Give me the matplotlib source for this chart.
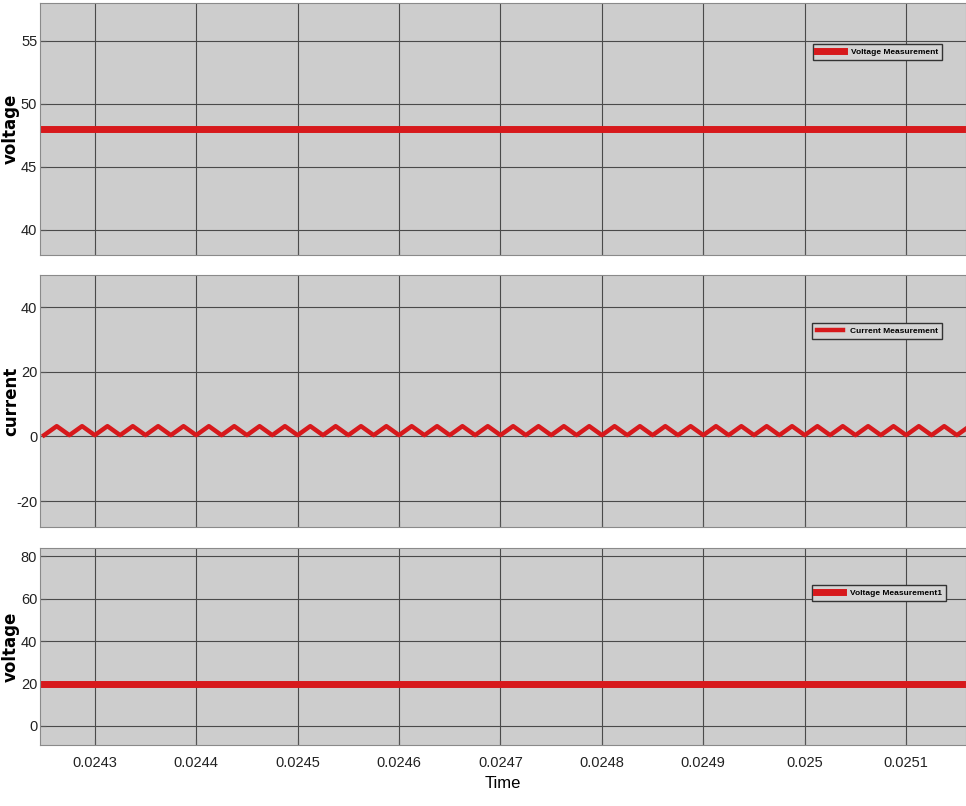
"""
三个测量通道的波形（电压、电流、电压1）
"""
import numpy as np
import matplotlib
matplotlib.use('Agg')
import matplotlib.pyplot as plt

plt.rcParams['font.family'] = ['Liberation Sans', 'DejaVu Sans']
plt.rcParams['axes.unicode_minus'] = False  # 用短横线表示负号

# 时间轴
x_ticks = [0.0243, 0.0244, 0.0245, 0.0246, 0.0247, 0.0248, 0.0249, 0.0250, 0.0251]
x_tick_labels = ['0.0243', '0.0244', '0.0245', '0.0246', '0.0247', '0.0248', '0.0249', '0.025', '0.0251']
x_range = [0.024246, 0.025159]

# 电压测量（恒定）
voltage_t = [0.02424, 0.02517]
voltage_v = [48.0, 48.0]

# 电流测量（三角波顶点，单位微秒）
current_t_us = [24250, 24262.5, 24275, 24287.5, 24300, 24312.5, 24325, 24337.5, 24350, 24362.5,
                24375, 24387.5, 24400, 24412.5, 24425, 24437.5, 24450, 24462.5, 24475, 24487.5,
                24500, 24512.5, 24525, 24537.5, 24550, 24562.5, 24575, 24587.5, 24600, 24612.5,
                24625, 24637.5, 24650, 24662.5, 24675, 24687.5, 24700, 24712.5, 24725, 24737.5,
                24750, 24762.5, 24775, 24787.5, 24800, 24812.5, 24825, 24837.5, 24850, 24862.5,
                24875, 24887.5, 24900, 24912.5, 24925, 24937.5, 24950, 24962.5, 24975, 24987.5,
                25000, 25012.5, 25025, 25037.5, 25050, 25062.5, 25075, 25087.5, 25100, 25112.5,
                25125, 25137.5, 25150, 25162.5, 25175]
current_a = [0.4, 3.2, 0.4, 3.2, 0.4, 3.2, 0.4, 3.2, 0.4, 3.2,
             0.4, 3.2, 0.4, 3.2, 0.4, 3.2, 0.4, 3.2, 0.4, 3.2,
             0.4, 3.2, 0.4, 3.2, 0.4, 3.2, 0.4, 3.2, 0.4, 3.2,
             0.4, 3.2, 0.4, 3.2, 0.4, 3.2, 0.4, 3.2, 0.4, 3.2,
             0.4, 3.2, 0.4, 3.2, 0.4, 3.2, 0.4, 3.2, 0.4, 3.2,
             0.4, 3.2, 0.4, 3.2, 0.4, 3.2, 0.4, 3.2, 0.4, 3.2,
             0.4, 3.2, 0.4, 3.2, 0.4, 3.2, 0.4, 3.2, 0.4, 3.2,
             0.4, 3.2, 0.4, 3.2, 0.4]

# 电压测量1（恒定）
voltage1_t = [0.02424, 0.02517]
voltage1_v = [19.8, 19.8]

bg = '#cdcdcd'
red = '#d7191c'

fig = plt.figure(figsize=(9.66, 8.06), dpi=100)
ax1 = fig.add_axes([0.0414, 0.6836, 0.9586, 0.3127])
ax2 = fig.add_axes([0.0414, 0.3462, 0.9586, 0.3127])
ax3 = fig.add_axes([0.0414, 0.0757, 0.9586, 0.2444])

ax1.plot(voltage_t, voltage_v, color=red, linewidth=5, label='Voltage Measurement')
ax2.plot(np.array(current_t_us) * 1e-6, current_a, color=red, linewidth=3.2, label='Current Measurement')
ax3.plot(voltage1_t, voltage1_v, color=red, linewidth=5, label='Voltage Measurement1')

ax1.set_ylim(38, 58)
ax1.set_yticks([40, 45, 50, 55])
ax2.set_ylim(-28, 50)
ax2.set_yticks([-20, 0, 20, 40])
ax3.set_ylim(-9, 84)
ax3.set_yticks([0, 20, 40, 60, 80])

legend_tops = [(0.9752, 0.9454), (0.9752, 0.5993), (0.979, 0.2742)]
for ax, ylab, anchor in zip([ax1, ax2, ax3], ['voltage', 'current', 'voltage'], legend_tops):
    ax.set_facecolor(bg)
    ax.set_xlim(x_range)
    ax.set_xticks(x_ticks)
    ax.grid(True, color='#4a4a4a', linewidth=0.8)
    ax.tick_params(axis='both', direction='in', length=4, colors='#555555', labelcolor='#222222',
                   labelsize=10.5, pad=2)
    for s in ax.spines.values():
        s.set_color('#8a8a8a')
    # 纵轴标题放在图的左边缘
    pos = ax.get_position()
    fig.text(0.0115, pos.y0 + pos.height / 2, ylab, rotation=90, ha='center', va='center',
             fontsize=12, fontweight='bold', family='DejaVu Sans')
    leg = ax.legend(loc='upper right', bbox_to_anchor=anchor, bbox_transform=fig.transFigure,
                    borderaxespad=0, fontsize=6, handlelength=3.2, fancybox=False,
                    framealpha=1, facecolor='#d4d4d4', edgecolor='#333333', borderpad=0.5)
    for t in leg.get_texts():
        t.set_fontweight('bold')

ax1.set_xticklabels([])
ax2.set_xticklabels([])
ax3.set_xticklabels(x_tick_labels)
ax3.tick_params(axis='x', pad=8)
ax3.set_xlabel('Time', fontsize=12, labelpad=4)

fig.savefig('out.png', dpi=100)
